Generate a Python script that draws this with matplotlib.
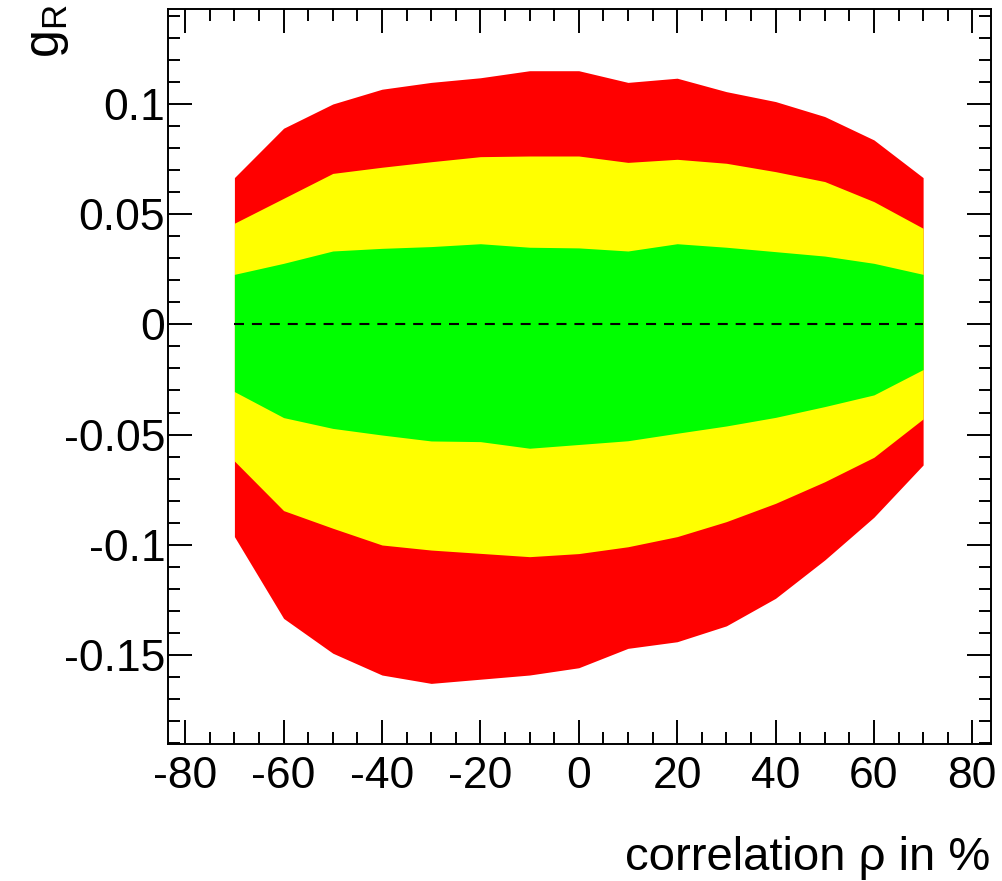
import matplotlib
matplotlib.use("Agg")
import matplotlib.pyplot as plt
from matplotlib.ticker import MultipleLocator, FuncFormatter

plt.rcParams['font.family'] = ['Liberation Sans', 'DejaVu Sans']
plt.rcParams['axes.unicode_minus'] = False

# correlation in percent
rho = [-70, -60, -50, -40, -30, -20, -10, 0, 10, 20, 30, 40, 50, 60, 70]

# 3 sigma band (red)
red_hi = [0.0666, 0.0890, 0.1000, 0.1067, 0.1098, 0.1119, 0.1151, 0.1151,
          0.1098, 0.1117, 0.1056, 0.1011, 0.0943, 0.0837, 0.0666]
red_lo = [-0.0963, -0.1334, -0.1492, -0.1591, -0.1629, -0.1610, -0.1591, -0.1558,
          -0.1470, -0.1440, -0.1368, -0.1243, -0.1069, -0.0875, -0.0638]

# 2 sigma band (yellow)
yel_hi = [0.0459, 0.0572, 0.0685, 0.0713, 0.0738, 0.0761, 0.0764, 0.0764,
          0.0735, 0.0749, 0.0731, 0.0693, 0.0648, 0.0557, 0.0436]
yel_lo = [-0.0620, -0.0845, -0.0925, -0.1001, -0.1024, -0.1039, -0.1054, -0.1040,
          -0.1009, -0.0963, -0.0895, -0.0812, -0.0714, -0.0603, -0.0429]

# 1 sigma band (green)
grn_hi = [0.0227, 0.0277, 0.0333, 0.0345, 0.0353, 0.0366, 0.0350, 0.0347,
          0.0333, 0.0366, 0.0350, 0.0330, 0.0310, 0.0277, 0.0227]
grn_lo = [-0.0305, -0.0423, -0.0472, -0.0502, -0.0529, -0.0532, -0.0562, -0.0545,
          -0.0528, -0.0494, -0.0461, -0.0422, -0.0373, -0.0320, -0.0205]

fig = plt.figure(figsize=(10.02, 8.81), dpi=100)
ax = fig.add_axes([168 / 1002, 1 - 744 / 881, 823 / 1002, 735 / 881])

ax.fill_between(rho, red_lo, red_hi, color='#ff0000', lw=0)
ax.fill_between(rho, yel_lo, yel_hi, color='#ffff00', lw=0)
ax.fill_between(rho, grn_lo, grn_hi, color='#00ff00', lw=0)
ax.hlines(0, rho[0], rho[-1], colors='black', lw=1.5, linestyles=(0, (4.8, 3.8)))

ax.set_xlim(-83.5, 83.8)
ax.set_ylim(-0.1904, 0.1431)

ax.xaxis.set_major_locator(MultipleLocator(20))
ax.xaxis.set_minor_locator(MultipleLocator(5))
ax.yaxis.set_major_locator(MultipleLocator(0.05))
ax.yaxis.set_minor_locator(MultipleLocator(0.01))
fmt = FuncFormatter(lambda v, p: '%g' % round(v, 4))
ax.xaxis.set_major_formatter(fmt)
ax.yaxis.set_major_formatter(fmt)

ax.tick_params(which='both', direction='in', top=True, right=True, width=1.4,
               labelsize=32)
ax.tick_params(which='major', length=17)
ax.tick_params(which='minor', length=8.5)
ax.tick_params(axis='x', pad=9)
ax.tick_params(axis='y', pad=2)
for s in ax.spines.values():
    s.set_linewidth(1.4)

fig.text(990 / 1002, 1 - 870 / 881, 'correlation \u03c1 in %', fontsize=34,
         ha='right', va='baseline')
fig.text(48 / 1002, 1 - 4 / 881, r'$\mathregular{g_R}$', fontsize=36,
         rotation=90, ha='center', va='top')

fig.savefig('out.png', dpi=100)
